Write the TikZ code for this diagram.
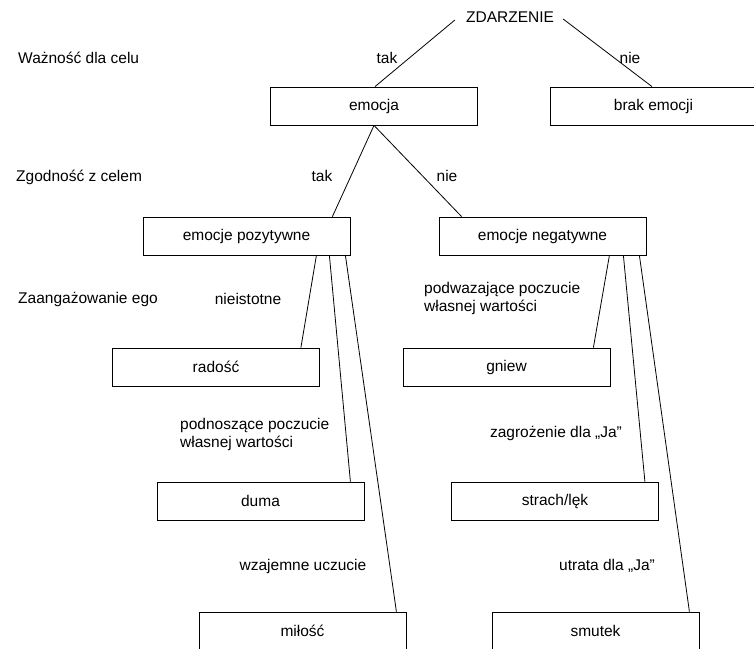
\documentclass[tikz,border=0pt]{standalone}
\usepackage{fontspec}
\setmainfont{Liberation Sans}
\tikzset{
  box/.style={draw, line width=0.8pt, minimum width=207pt, minimum height=38pt, inner sep=0pt},
  lbl/.style={inner sep=0pt},
  conn/.style={line width=0.8pt},
}
\begin{document}
\begin{tikzpicture}[x=1pt,y=-1pt, every node/.style={font=\fontsize{15.5}{18}\selectfont}]
\path[fill=white,use as bounding box] (0,0) rectangle (754,648);

\node[lbl] (zd) at (510,17) {ZDARZENIE};
\node[box] (emocja) at (374,106) {emocja};
\node[box] (brak) at (653.5,106) {brak emocji};
\node[box] (poz) at (246.5,236) {emocje pozytywne};
\node[box] (neg) at (542.5,236) {emocje negatywne};
\node[box] (radosc) at (216,367) {radość};
\node[box] (gniew) at (506.5,367) {gniew};
\node[box] (duma) at (260.5,501) {duma};
\node[box] (strach) at (555,501) {strach/lęk};
\node[box] (milosc) at (302.5,631) {miłość};
\node[box] (smutek) at (595.5,631) {smutek};

\node[lbl, anchor=west] (l1) at (18,58) {Ważność dla celu};
\node[lbl, anchor=west] (l2) at (16,177) {Zgodność z celem};
\node[lbl, anchor=west] (l3) at (18,299) {Zaangażowanie ego};
\node[lbl] (tak1) at (387,58) {tak};
\node[lbl] (nie1) at (630,58) {nie};
\node[lbl] (tak2) at (322,176) {tak};
\node[lbl] (nie2) at (447,176) {nie};
\node[lbl] (niei) at (248,299) {nieistotne};
\node[lbl, anchor=west, align=left] (podw) at (424,298) {podwazające poczucie\\własnej wartości};
\node[lbl, anchor=west, align=left] (podn) at (180,434) {podnoszące poczucie\\własnej wartości};
\node[lbl] (zagr) at (556,433) {zagrożenie dla „Ja”};
\node[lbl] (wzaj) at (303,566) {wzajemne uczucie};
\node[lbl] (utr) at (607,566) {utrata dla „Ja”};

\draw[conn] ([xshift=-11pt,yshift=-3pt]zd.west) -- ([xshift=1pt]emocja.north);
\draw[conn] ([xshift=9pt,yshift=-2pt]zd.east) -- ([xshift=-1.5pt]brak.north);
\draw[conn] (emocja.south) -- ([xshift=-18pt]poz.north east);
\draw[conn] (emocja.south) -- ([xshift=23pt]neg.north west);
\draw[conn] ([xshift=-34pt]poz.south east) -- ([xshift=-19pt]radosc.north east);
\draw[conn] ([xshift=-21pt]poz.south east) -- ([xshift=-14pt]duma.north east);
\draw[conn] ([xshift=-5pt]poz.south east) -- ([xshift=-10pt]milosc.north east);
\draw[conn] ([xshift=-37pt]neg.south east) -- ([xshift=-17pt]gniew.north east);
\draw[conn] ([xshift=-23pt]neg.south east) -- ([xshift=-14pt]strach.north east);
\draw[conn] ([xshift=-7pt]neg.south east) -- ([xshift=-10pt]smutek.north east);
\end{tikzpicture}
\end{document}
